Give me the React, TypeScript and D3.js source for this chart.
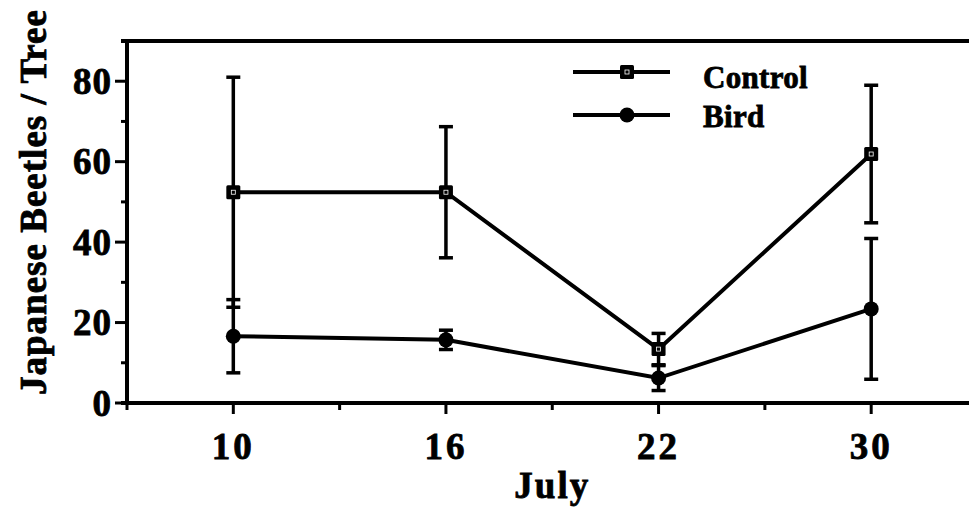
import React from "react";
import * as d3 from "d3";

// July sampling dates, beetles per tree (mean +/- error)
const days = ["10", "16", "22", "30"];
const controlMean = [52.4, 52.4, 13.4, 61.9];
const controlErr = [28.6, 16.3, 3.9, 17.1];
const birdMean = [16.6, 15.7, 6.2, 23.4];
const birdErr = [9.1, 2.4, 3.1, 17.5];
const yTicks = [0, 20, 40, 60, 80];
const yMinor = [10, 30, 50, 70, 90];

const W = 969;
const H = 514;
const font = "'Liberation Serif', 'Times New Roman', serif";
// the scanned labels are heavier than a plain bold face
const heavy = { fontFamily: font, fontWeight: "bold" as const, stroke: "#000", strokeWidth: 0.8 };

export default function App() {
  // each date sits on an odd slot; even slots get minor ticks
  const x = d3.scaleLinear().domain([0, 7.92]).range([127, W]);
  const y = d3.scaleLinear().domain([0, 90]).range([403, 41]);
  const slotOf = (i: number) => 2 * i + 1;

  const line = d3
    .line<number>()
    .x((_, i) => x(slotOf(i)))
    .y((d) => y(d));

  const errBars = (means: number[], errs: number[], key: string) =>
    means.map((m, i) => {
      const cx = x(slotOf(i));
      const hi = y(m + errs[i]);
      const lo = y(Math.max(0, m - errs[i]));
      return (
        <g key={key + i} stroke="#000" strokeWidth={3.5}>
          <line x1={cx} x2={cx} y1={hi} y2={lo} />
          <line x1={cx - 7} x2={cx + 7} y1={hi} y2={hi} />
          <line x1={cx - 7} x2={cx + 7} y1={lo} y2={lo} />
        </g>
      );
    });

  const square = (cx: number, cy: number, key: string) => (
    <g key={key}>
      <rect x={cx - 7} y={cy - 7} width={14} height={14} fill="#000" rx={1.5} />
      <rect x={cx - 2} y={cy - 2} width={4} height={4} fill="none" stroke="#fff" strokeWidth={0.8} />
    </g>
  );

  const minorX = d3.range(0, 8, 2);

  return (
    <svg
      width={W}
      height={H}
      style={{ position: "absolute", left: 0, top: 0, background: "#fff" }}
    >
      {/* frame */}
      <g stroke="#000" strokeWidth={4}>
        <line x1={121} x2={W} y1={y(90)} y2={y(90)} />
        <line x1={x(0)} x2={x(0)} y1={y(90) - 2} y2={y(0) + 2} />
        <line x1={121} x2={W} y1={y(0)} y2={y(0)} />
      </g>

      {/* y ticks */}
      <g stroke="#000" strokeWidth={3}>
        {yTicks.map((t) => (
          <line key={"yt" + t} x1={115} x2={x(0)} y1={y(t)} y2={y(t)} />
        ))}
        {yMinor.map((t) => (
          <line key={"ym" + t} x1={121} x2={x(0)} y1={y(t)} y2={y(t)} />
        ))}
      </g>
      {yTicks.map((t) => (
        <text
          key={"yl" + t}
          x={112}
          y={y(t)}
          dy="0.34em"
          textAnchor="end"
          {...heavy}
          fontSize={37}
          letterSpacing={1}
        >
          {t}
        </text>
      ))}

      {/* x ticks */}
      <g stroke="#000" strokeWidth={3}>
        {days.map((d, i) => (
          <line key={"xt" + d} x1={x(slotOf(i))} x2={x(slotOf(i))} y1={y(0)} y2={y(0) + 11} />
        ))}
        {minorX.map((s) => (
          <line key={"xm" + s} x1={x(s)} x2={x(s)} y1={y(0)} y2={y(0) + 7} />
        ))}
      </g>
      {days.map((d, i) => (
        <text
          key={"xl" + d}
          x={x(slotOf(i))}
          y={459}
          textAnchor="middle"
          {...heavy}
          fontSize={37}
          letterSpacing={3}
        >
          {d}
        </text>
      ))}

      {/* axis titles */}
      <text
        x={(x(3) + x(5)) / 2}
        y={498}
        textAnchor="middle"
        {...heavy}
        fontSize={37}
        letterSpacing={2}
      >
        July
      </text>
      <text
        transform={`translate(46, ${(10 + 395) / 2}) rotate(-90)`}
        textAnchor="middle"
        {...heavy}
        fontSize={37}
        textLength={385}
        lengthAdjust="spacing"
      >
        Japanese Beetles / Tree
      </text>

      {/* series */}
      {errBars(controlMean, controlErr, "ce")}
      {errBars(birdMean, birdErr, "be")}
      <path d={line(controlMean) || ""} fill="none" stroke="#000" strokeWidth={4} />
      <path d={line(birdMean) || ""} fill="none" stroke="#000" strokeWidth={4} />
      {controlMean.map((m, i) => square(x(slotOf(i)), y(m), "cs" + i))}
      {birdMean.map((m, i) => (
        <circle key={"bc" + i} cx={x(slotOf(i))} cy={y(m)} r={7.5} fill="#000" />
      ))}

      {/* legend */}
      <g stroke="#000" strokeWidth={4}>
        <line x1={573} x2={670} y1={72} y2={72} />
        <line x1={573} x2={670} y1={115} y2={115} />
      </g>
      {square(627, 72, "legsq")}
      <circle cx={627} cy={115} r={7.5} fill="#000" />
      <text x={703} y={88} {...heavy} fontSize={31} letterSpacing={0.3}>
        Control
      </text>
      <text x={703} y={127} {...heavy} fontSize={31} letterSpacing={0.3}>
        Bird
      </text>
    </svg>
  );
}
